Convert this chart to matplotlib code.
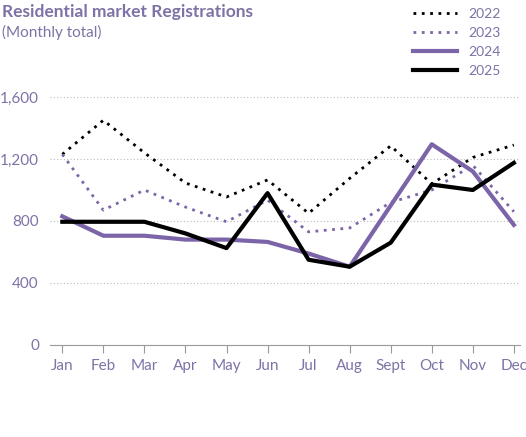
import matplotlib
matplotlib.use("Agg")
import matplotlib.pyplot as plt

months = ["Jan","Feb","Mar","Apr","May","Jun","Jul","Aug","Sept","Oct","Nov","Dec"]
v2022 = [1230,1450,1240,1045,955,1065,850,1075,1285,1040,1210,1290]
v2023 = [1230,870,1000,890,795,935,730,755,920,1000,1160,860]
v2024 = [830,705,705,680,680,665,590,505,900,1295,1120,775]
v2025 = [795,795,795,720,625,980,550,505,660,1035,1000,1175]

purple = "#7b64a8"
txt = "#7e72a6"
plt.rcParams['font.family'] = ['Lato', 'DejaVu Sans']
fig = plt.figure(figsize=(5.26, 4.37), dpi=100)
ax = fig.add_axes([50/526, 1-345/437, (520-50)/526, (345-97)/437])
x = range(len(months))
ax.plot(x, v2022, color="black", ls=(0,(1,2)), lw=2, label="2022", clip_on=False)
ax.plot(x, v2023, color=purple, ls=(0,(1,2)), lw=2, label="2023", clip_on=False)
ax.plot(x, v2024, color=purple, lw=3, label="2024", clip_on=False)
ax.plot(x, v2025, color="black", lw=3, label="2025", clip_on=False)
ax.set_ylim(0, 1600)
ax.set_xlim(-0.3, 11.15)
ax.set_yticks([0,400,800,1200,1600])
ax.set_yticklabels(["0","400","800","1,200","1,600"])
ax.set_xticks(list(x))
ax.set_xticklabels(months)
ax.tick_params(colors=txt, labelsize=11, length=0, pad=8)
ax.tick_params(axis='x', length=6, color="#999999", pad=4)
for s in ["top","right","left"]:
    ax.spines[s].set_visible(False)
ax.spines["bottom"].set_color("#999999")
ax.grid(axis='y', color="#bbbbbb", ls=(0,(1,2)), lw=0.8)
ax.set_axisbelow(True)
fig.text(2/526, 1-12/437, "Residential market Registrations", color=txt, fontsize=12.5, fontweight="bold", va="center")
fig.text(2/526, 1-32/437, "(Monthly total)", color=txt, fontsize=11, va="center")
fig.legend(loc="upper left", bbox_to_anchor=(400/526, 1.01), frameon=False, fontsize=10,
           handlelength=3.2, labelcolor=txt, labelspacing=0.5)
fig.savefig("out.png", dpi=100)
